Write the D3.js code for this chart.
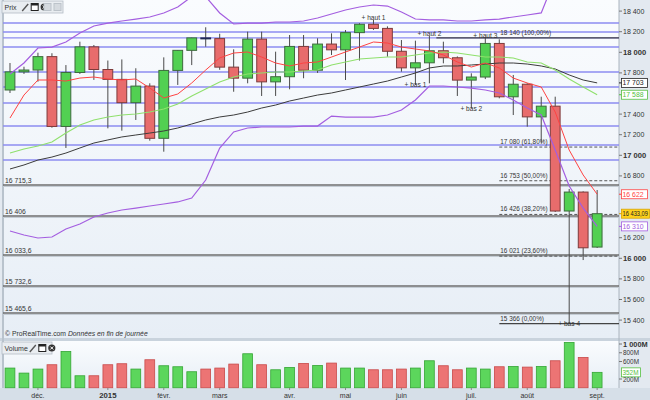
<!DOCTYPE html>
<html>
<head>
<meta charset="utf-8">
<script src="https://cdn.jsdelivr.net/npm/d3@7/dist/d3.min.js"></script>
<style>
body{margin:0;background:#fff}
svg{display:block;font-family:"Liberation Sans",Arial,sans-serif}
</style>
</head>
<body>
<svg id="chart"></svg>
<script>
// weekly candles (Monday of each week)
var weeks=["2014-11-17","2014-11-24","2014-12-01","2014-12-08","2014-12-15","2014-12-22","2014-12-29",
"2015-01-05","2015-01-12","2015-01-19","2015-01-26","2015-02-02","2015-02-09","2015-02-16","2015-02-23",
"2015-03-02","2015-03-09","2015-03-16","2015-03-23","2015-03-30","2015-04-06","2015-04-13","2015-04-20",
"2015-04-27","2015-05-04","2015-05-11","2015-05-18","2015-05-25","2015-06-01","2015-06-08","2015-06-15",
"2015-06-22","2015-06-29","2015-07-06","2015-07-13","2015-07-20","2015-07-27","2015-08-03","2015-08-10",
"2015-08-17","2015-08-24","2015-08-31","2015-09-07"]
var opens=[17634,17810,17828,17958,17280,17804,18053,17833,17737,17511,17672,17165,17824,18019,18140,
18133,17856,17749,18128,17713,17763,18057,17826,18080,18024,18191,18272,18232,18010,17849,17898,
18015,17947,17730,17760,18086,17568,17690,17373,17477,16459,16643,16109]
var highs=[17896,17860,17996,17991,17876,18103,18071,17920,17931,17845,17699,17951,18022,18142,18243,
18180,18029,18200,18200,18006,18168,18168,18136,18184,18216,18282,18314,18252,18119,18113,18158,
18103,17960,17796,18140,18126,17780,17700,17569,17569,16673,16650,16663]
var lows=[17605,17790,17715,17268,17071,17790,17732,17262,17239,17343,17142,17035,17683,17876,18054,
17830,17617,17699,17576,17576,17641,17748,17800,17974,17731,17920,18217,17957,17812,17683,17699,
17893,17576,17456,17740,17553,17391,17278,17117,16450,15366,15983,16100]
var closes=[17810,17828,17958,17280,17804,18053,17833,17737,17511,17672,17165,17824,18019,18140,18133,
17856,17749,18128,17713,17763,18057,17826,18080,18024,18191,18272,18232,18010,17849,17898,18015,
17947,17730,17760,18086,17568,17690,17373,17477,16459,16643,16102,16433.09]
// volume in millions
var volumes=[450,335,427,526,830,274,274,526,549,427,640,503,480,366,427,450,541,777,526,411,465,556,510,
564,450,450,411,411,427,450,617,503,411,450,427,480,487,472,487,617,1036,693,352]

// indicator lines
var maShort=[17362,17585,17731,17731,17721,17750,17760,17741,17731,17741,17653,17556,17595,17702,17828,
17945,17993,18003,17954,17896,17867,17896,17906,17954,18003,18051,18100,18090,18051,18032,18013,
17974,17906,17857,17896,17848,17750,17702,17663,17420,17051,16809,16622]
var maMid=[17022,17061,17090,17129,17216,17294,17343,17372,17391,17401,17420,17450,17498,17576,17643,
17711,17760,17789,17799,17809,17809,17818,17828,17877,17906,17935,17945,17954,17954,17974,17993,
18003,17993,17974,17954,17954,17945,17906,17896,17828,17741,17663,17588]
var maLong=[16867,16906,16954,16983,17022,17071,17119,17149,17178,17197,17216,17236,17265,17304,17343,
17372,17391,17420,17459,17488,17527,17556,17585,17605,17634,17663,17692,17721,17760,17799,17848,
17867,17867,17877,17886,17896,17896,17886,17867,17838,17780,17731,17703]
var bbUpper=[17789,17896,18042,18051,18100,18187,18255,18284,18304,18323,18343,18382,18440,18540,18540,
18382,18275,18284,18284,18294,18294,18304,18333,18372,18411,18440,18459,18449,18391,18323,18314,
18314,18304,18304,18314,18323,18343,18362,18382,18720,19000,19150,19250]
var bbLower=[16265,16226,16197,16207,16284,16333,16401,16440,16469,16488,16508,16527,16547,16585,16760,
17071,17227,17265,17275,17275,17275,17284,17284,17381,17371,17371,17371,17391,17440,17537,17673,
17673,17663,17653,17634,17605,17537,17459,17391,17052,16702,16488,16310]

var levelLines=[18284,18197,18140,18051,17809,17663,17508,17284,17100,16954]
var greyLines=[16715.3,16406,16033.6,15732.6,15465.6]
var fibValues=[18140,17080,16753,16426,16021,15366]
var fibPct=["100,00%","61,80%","50,00%","38,20%","23,60%","0,00%"]
var pivotIdx=[26,30,29,33,34,40]
var pivotNames=["haut 1","haut 2","bas 1","bas 2","haut 3","bas 4"]
var pivotHigh=[true,true,false,false,true,false]
var monthIdx=[2,7,11,15,20,24,28,33,37,42]
var monthNames=["déc.","2015","févr.","mars","avr.","mai","juin","juil.","août","sept."]
var priceTicks=d3.range(15400,18401,200)
var volTicks=[200,400,600,800,1000]

var fr=d3.formatLocale({decimal:",",thousands:" ",grouping:[3],currency:["","€"]})
var fmt0=fr.format(",.0f"), fmt1=fr.format(",.1f"), fmt2=fr.format(",.2f")

var W=650,H=400
var plot={left:3,right:619,top:0,bottom:338}
var vol={top:341,bottom:388}
var svg=d3.select("#chart").attr("width",W).attr("height",H)

var defs=svg.append("defs")
var grad=defs.append("linearGradient").attr("id","bg").attr("x1",0).attr("y1",0).attr("x2",0).attr("y2",1)
grad.append("stop").attr("offset","0%").attr("stop-color","#fafcfe")
grad.append("stop").attr("offset","100%").attr("stop-color","#e7eef6")
defs.append("clipPath").attr("id","clipP").append("rect")
  .attr("x",plot.left).attr("y",plot.top).attr("width",plot.right-plot.left).attr("height",plot.bottom-plot.top)

var xScale=d3.scaleBand().domain(weeks).range([3,3+13.98*weeks.length]).paddingInner(0.3).paddingOuter(0.15)
var cx=function(i){return xScale(weeks[i])+xScale.bandwidth()/2}
var yScale=d3.scaleLinear().domain([16000,18000]).range([258.3,52.3])
var vScale=d3.scaleLinear().domain([0,1000]).range([387.75,344])

// backgrounds
svg.append("rect").attr("width",W).attr("height",H).attr("fill","#e3e9f0")
svg.append("rect").attr("x",plot.left).attr("y",plot.top).attr("width",plot.right-plot.left)
  .attr("height",plot.bottom-plot.top).attr("fill","url(#bg)")
svg.append("rect").attr("x",plot.left).attr("y",vol.top).attr("width",plot.right-plot.left)
  .attr("height",vol.bottom-vol.top).attr("fill","url(#bg)")
svg.append("rect").attr("x",0).attr("y",plot.bottom).attr("width",W).attr("height",vol.top-plot.bottom).attr("fill","#c9d3dd")
svg.append("rect").attr("x",0).attr("y",vol.bottom).attr("width",W).attr("height",H-vol.bottom).attr("fill","#d6dfe8")
svg.append("line").attr("x1",plot.left).attr("x2",plot.left).attr("y1",0).attr("y2",vol.bottom)
  .attr("stroke","#b9c3cd").attr("stroke-width",2)
svg.append("line").attr("x1",plot.right).attr("x2",plot.right).attr("y1",0).attr("y2",vol.bottom)
  .attr("stroke","#aab4be")

var g=svg.append("g").attr("clip-path","url(#clipP)")

// horizontal levels
g.selectAll(".lvl").data(levelLines).enter().append("line")
  .attr("x1",plot.left).attr("x2",plot.right)
  .attr("y1",function(d){return yScale(d)}).attr("y2",function(d){return yScale(d)})
  .attr("stroke","#8d8cf0").attr("stroke-width",1.4)

greyLines.forEach(function(d){
  var y=Math.round(yScale(d))
  g.append("line").attr("x1",plot.left).attr("x2",plot.right).attr("y1",y+1.5).attr("y2",y+1.5)
    .attr("stroke","#c4ccd4").attr("stroke-width",1)
  g.append("line").attr("x1",plot.left).attr("x2",plot.right).attr("y1",y).attr("y2",y)
    .attr("stroke","#6e6e6e").attr("stroke-width",1.4)
  g.append("text").attr("x",5).attr("y",y-2.5).attr("font-size",6.8).attr("fill","#333").text(fmt1(d).replace(",0",""))
})

// fibonacci
fibValues.forEach(function(d,k){
  var y=yScale(d)
  var start=(k==0)?cx(31)-7:cx(35)
  var solid=(k==0||k==fibValues.length-1)
  g.append("line").attr("x1",start).attr("x2",plot.right).attr("y1",y).attr("y2",y)
    .attr("stroke",solid?"#444":"#555").attr("stroke-width",solid?1.2:1)
    .attr("stroke-dasharray",solid?null:"3,2")
  g.append("text").attr("x",cx(35)+1).attr("y",y-3).attr("font-size",6.4).attr("fill","#333")
    .text(fmt0(d)+" ("+fibPct[k]+")")
})

// candles
var idx=d3.range(weeks.length)
var bw=xScale.bandwidth()
g.selectAll(".wick").data(idx).enter().append("line")
  .attr("x1",cx).attr("x2",cx)
  .attr("y1",function(i){return yScale(highs[i])}).attr("y2",function(i){return yScale(lows[i])})
  .attr("stroke","#4a4a4a").attr("stroke-width",1)
g.selectAll(".body").data(idx).enter().append("rect")
  .attr("x",function(i){return xScale(weeks[i])})
  .attr("width",bw)
  .attr("y",function(i){return yScale(Math.max(opens[i],closes[i]))})
  .attr("height",function(i){return Math.max(1,Math.abs(yScale(opens[i])-yScale(closes[i])))})
  .attr("fill",function(i){return closes[i]>=opens[i]?"#52d052":"#e86c6c"})
  .attr("stroke",function(i){
    if(Math.abs(opens[i]-closes[i])<15) return "#1f2a55"
    return closes[i]>=opens[i]?"#3d6b3d":"#7e3b3b"})
  .attr("stroke-width",1)

// indicator lines
var lineOf=function(arr){
  return d3.line().x(function(d,i){return cx(i)}).y(function(d){return yScale(d)})(arr)
}
var series=[[bbUpper,"#a45ee0",1.2],[bbLower,"#a45ee0",1.2],[maLong,"#3c3c3c",1],[maMid,"#8fe06c",1.1],[maShort,"#ff4343",1]]
series.forEach(function(s){
  g.append("path").attr("d",lineOf(s[0])).attr("fill","none").attr("stroke",s[1]).attr("stroke-width",s[2])
})

// pivot labels
pivotIdx.forEach(function(i,k){
  var v=pivotHigh[k]?highs[i]:lows[i]
  g.append("text").attr("x",cx(i)).attr("y",yScale(v)+(pivotHigh[k]?0:2.5)).attr("text-anchor","middle")
    .attr("font-size",6.6).attr("fill","#333").text("+ "+pivotNames[k])
})

// right price axis
var boxes=[[maLong[42],"#222","#fff","#222",fmt0],[maMid[42],"#55c040","#fff","#55c040",fmt0],
  [maShort[42],"#ff4343","#fff","#ff4343",fmt0],[closes[42],"#d9a400","#ffd21c","#222",fmt2],
  [bbLower[42],"#a45ee0","#fff","#a45ee0",fmt0]]
var axis=svg.append("g")
priceTicks.forEach(function(t){
  var y=yScale(t)
  var hidden=boxes.some(function(b){return Math.abs(yScale(b[0])-y)<8})
  if(hidden||y<4) return
  axis.append("line").attr("x1",plot.right).attr("x2",plot.right+3).attr("y1",y).attr("y2",y).attr("stroke","#777")
  axis.append("text").attr("x",plot.right+4).attr("y",y+2.5).attr("font-size",t%1000==0?7.6:7)
    .attr("font-weight",t%1000==0?"bold":"normal").attr("fill","#333").text(fmt0(t))
})
boxes.forEach(function(b){
  var y=yScale(b[0])
  var label=b[4](b[0])
  var long=label.length>6
  var w=long?W-plot.right-3:26
  axis.append("line").attr("x1",plot.right).attr("x2",plot.right+3).attr("y1",y).attr("y2",y).attr("stroke",b[1])
  axis.append("rect").attr("x",plot.right+2.5).attr("y",y-4.5).attr("width",w).attr("height",9)
    .attr("fill",b[2]).attr("stroke",b[1]).attr("stroke-width",0.8)
  var t=axis.append("text").attr("x",plot.right+3.5).attr("y",y+2.5).attr("font-size",long?6.4:6.9).attr("fill",b[3]).text(label)
  if(long) t.attr("textLength",w-2.5).attr("lengthAdjust","spacingAndGlyphs")
})

// volume bars
svg.selectAll(".vol").data(idx).enter().append("rect")
  .attr("x",function(i){return xScale(weeks[i])})
  .attr("width",bw)
  .attr("y",function(i){return vScale(volumes[i])})
  .attr("height",function(i){return vScale(0)-vScale(volumes[i])})
  .attr("fill",function(i){return closes[i]>=opens[i]?"#5cd65c":"#ec7474"})
  .attr("stroke",function(i){return closes[i]>=opens[i]?"#35a535":"#c84a4a"})
  .attr("stroke-width",0.8)
var vLast=volumes[volumes.length-1]
volTicks.forEach(function(t){
  var y=vScale(t)
  if(Math.abs(vScale(vLast)-y)<4) return
  svg.append("line").attr("x1",plot.right).attr("x2",plot.right+3).attr("y1",y).attr("y2",y).attr("stroke","#777")
  svg.append("text").attr("x",plot.right+4).attr("y",y+2.5).attr("font-size",t==1000?7.4:6.4)
    .attr("font-weight",t==1000?"bold":"normal").attr("fill","#333").text(fmt0(t)+"M")
})
svg.append("rect").attr("x",plot.right+2.5).attr("y",vScale(vLast)-4.5).attr("width",19).attr("height",9)
  .attr("fill","#fff").attr("stroke","#55c040").attr("stroke-width",0.8)
svg.append("text").attr("x",plot.right+3.5).attr("y",vScale(vLast)+2.5).attr("font-size",6.4).attr("fill","#55c040").text(fmt0(vLast)+"M")

// month labels
monthIdx.forEach(function(i,k){
  svg.append("line").attr("x1",cx(i)).attr("x2",cx(i)).attr("y1",vol.bottom).attr("y2",vol.bottom+2).attr("stroke","#888")
  svg.append("text").attr("x",cx(i)).attr("y",vol.bottom+9.5).attr("text-anchor","middle")
    .attr("font-size",monthNames[k]=="2015"?7.8:7).attr("font-weight",monthNames[k]=="2015"?"bold":"normal")
    .attr("fill","#333").text(monthNames[k])
})

// toolbars
var toolbar=function(y,label,w){
  var t=svg.append("g").attr("transform","translate(2,"+y+")")
  t.append("rect").attr("width",w).attr("height",12).attr("fill","#e9edf1").attr("stroke","#b3bcc5").attr("stroke-width",0.8)
  t.append("text").attr("x",2.5).attr("y",8.8).attr("font-size",7).attr("fill","#333").text(label)
  var x0=label.length*3.8+4
  t.append("path").attr("d","M"+(x0+1)+",10 L"+(x0+7)+",3").attr("stroke","#555").attr("stroke-width",1.4)
  t.append("rect").attr("x",x0+10).attr("y",2.5).attr("width",7).attr("height",7).attr("fill","#fff").attr("stroke","#222")
  t.append("rect").attr("x",x0+10).attr("y",2.5).attr("width",7).attr("height",2).attr("fill","#222")
  t.append("circle").attr("cx",x0+23).attr("cy",6).attr("r",3.6).attr("fill","#333")
  t.append("path").attr("d","M"+(x0+21.5)+",4.5 L"+(x0+24.5)+",7.5 M"+(x0+24.5)+",4.5 L"+(x0+21.5)+",7.5")
    .attr("stroke","#fff").attr("stroke-width",1)
  return t
}
var tb=toolbar(1,"Prix",61)
tb.append("rect").attr("x",42).attr("y",2.5).attr("width",7).attr("height",7).attr("fill","#d5dadf").attr("stroke","#bcc3ca")
tb.append("rect").attr("x",52).attr("y",2.5).attr("width",7).attr("height",7).attr("fill","#d5dadf").attr("stroke","#bcc3ca")
toolbar(vol.top+1,"Volume",50)

// copyright
var cp=svg.append("text").attr("x",5).attr("y",plot.bottom-2.5).attr("font-size",6.8).attr("fill","#333")
cp.append("tspan").text("© ProRealTime.com ")
cp.append("tspan").attr("font-style","italic").text("Données en fin de journée")
</script>
</body>
</html>
